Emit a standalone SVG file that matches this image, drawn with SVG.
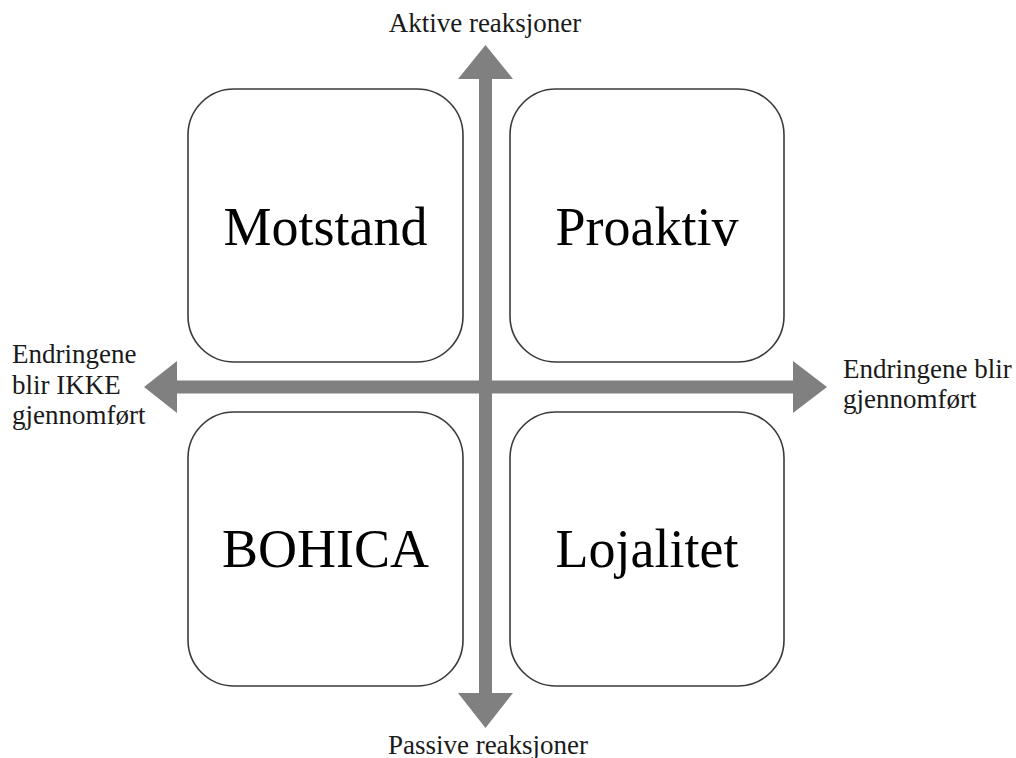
<svg xmlns="http://www.w3.org/2000/svg" width="1016" height="758" viewBox="0 0 1016 758">
<style>
.box{fill:#fff;stroke:#3a3a3a;stroke-width:1.6}
.big{font-family:"Liberation Serif","Times New Roman",serif;font-size:54px;fill:#000;text-anchor:middle}
.lbl{font-family:"Liberation Serif","Times New Roman",serif;font-size:27px;fill:#1a1a1a}
.arr{fill:#808080}
</style>
<rect width="1016" height="758" fill="#fff"/>
<g id="connectors">
<polygon class="arr" points="479,79 458,79 485.5,45 513,79 492,79 492,693 513,693 485.5,728 458,693 479,693"/>
<polygon class="arr" points="177,380.5 177,361 144,387 177,413 177,393.5 793,393.5 793,413 827,387 793,361 793,380.5"/>
</g>
<g id="motstand">
<rect class="box" x="188" y="89" width="275" height="273" rx="46"/>
<text class="big" x="325.5" y="245">Motstand</text>
</g>
<g id="proaktiv">
<rect class="box" x="510" y="89" width="274" height="273" rx="46"/>
<text class="big" x="647" y="245">Proaktiv</text>
</g>
<g id="bohica">
<rect class="box" x="188" y="412" width="275" height="274" rx="46"/>
<text class="big" x="325.5" y="567">BOHICA</text>
</g>
<g id="lojalitet">
<rect class="box" x="510" y="412" width="274" height="274" rx="46"/>
<text class="big" x="647" y="567">Lojalitet</text>
</g>
<g id="labels">
<text class="lbl" x="485" y="32" text-anchor="middle">Aktive reaksjoner</text>
<text class="lbl" x="488" y="754" text-anchor="middle">Passive reaksjoner</text>
<text class="lbl" x="12" y="363">Endringene</text>
<text class="lbl" x="12" y="394">blir IKKE</text>
<text class="lbl" x="12" y="424">gjennomført</text>
<text class="lbl" x="843" y="378">Endringene blir</text>
<text class="lbl" x="843" y="408">gjennomført</text>
</g>
</svg>
